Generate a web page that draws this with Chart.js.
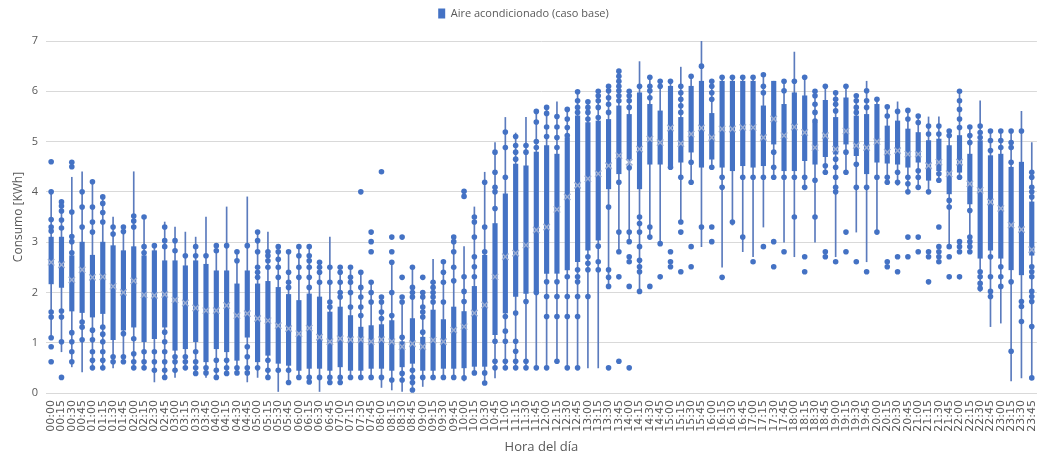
<!DOCTYPE html>
<html>
<head>
<meta charset="utf-8">
<script src="https://cdn.jsdelivr.net/npm/chart.js@4.4.1/dist/chart.umd.min.js"></script>
<style>
  html, body { margin: 0; padding: 0; background: #ffffff; }
  #wrap { width: 1052px; height: 457px; }
</style>
</head>
<body>
<div id="wrap"><canvas id="grafico" width="1052" height="457"></canvas></div>
<script>
// Horas del día, cada 15 minutos
const horas = [
  '00:00','00:15','00:30','00:45','01:00','01:15','01:30','01:45',
  '02:00','02:15','02:30','02:45','03:00','03:15','03:30','03:45',
  '04:00','04:15','04:30','04:45','05:00','05:15','05:30','05:45',
  '06:00','06:15','06:30','06:45','07:00','07:15','07:30','07:45',
  '08:00','08:15','08:30','08:45','09:00','09:15','09:30','09:45',
  '10:00','10:15','10:30','10:45','11:00','11:15','11:30','11:45',
  '12:00','12:15','12:30','12:45','13:00','13:15','13:30','13:45',
  '14:00','14:15','14:30','14:45','15:00','15:15','15:30','15:45',
  '16:00','16:15','16:30','16:45','17:00','17:15','17:30','17:45',
  '18:00','18:15','18:30','18:45','19:00','19:15','19:30','19:45',
  '20:00','20:15','20:30','20:45','21:00','21:15','21:30','21:45',
  '22:00','22:15','22:30','22:45','23:00','23:15','23:30','23:45'
];

// Extremo inferior del bigote [kWh]
const minimo = [
  1.1, 0.82, 0.52, 0.42, 0.5, 0.5, 0.5, 0.6, 0.5, 0.5,
  0.22, 0.31, 0.31, 0.5, 0.39, 0.31, 0.31, 0.39, 0.4, 0.22,
  0.31, 0.31, 0.03, 0.21, 0.31, 0.21, 0.03, 0.21, 0.21, 0.31,
  0.31, 0.31, 0.11, 0.06, 0.03, 0.06, 0.13, 0.31, 0.31, 0.31,
  0.24, 0.4, 0.2, 0.3, 0.5, 0.5, 0.5, 0.5, 0.5, 0.63,
  0.5, 0.5, 0.5, 0.5, 2.12, 2.81, 3.0, 2.02, 3.1, 2.97,
  4.49, 3.4, 4.19, 2.91, 4.49, 2.5, 3.34, 2.81, 2.71, 3.3,
  4.29, 3.0, 2.71, 4.09, 3.0, 4.39, 2.71, 4.39, 3.2, 2.61,
  3.2, 4.19, 4.13, 4.0, 4.09, 4.0, 4.23, 2.91, 4.29, 2.81,
  2.02, 1.32, 1.39, 0.24, 0.3, 0.3
];

// Primer cuartil [kWh]
const cuartil1 = [
  2.17, 2.1, 1.63, 1.6, 1.51, 1.58, 1.06, 1.25, 1.31, 1.02,
  1.08, 1.31, 0.85, 0.88, 1.02, 0.62, 0.88, 0.82, 0.65, 1.11,
  0.62, 0.75, 0.59, 0.55, 0.45, 0.49, 0.49, 0.45, 0.52, 0.45,
  0.45, 0.49, 0.49, 0.45, 0.52, 0.59, 0.45, 0.45, 0.49, 0.49,
  0.5, 0.53, 0.53, 1.16, 1.59, 1.92, 1.98, 2.02, 2.38, 2.38,
  2.45, 2.61, 2.84, 3.04, 4.06, 4.36, 4.65, 4.06, 4.55, 4.55,
  4.52, 4.59, 4.79, 4.49, 4.65, 4.49, 4.42, 4.52, 4.49, 4.52,
  4.95, 4.42, 4.42, 4.62, 4.55, 4.7, 4.75, 4.95, 4.72, 4.36,
  4.59, 4.57, 4.55, 4.49, 4.59, 4.23, 4.42, 3.96, 4.39, 3.76,
  2.68, 2.84, 2.68, 2.45, 2.35, 2.74
];

// Tercer cuartil [kWh]
const cuartil3 = [
  3.1, 3.1, 2.73, 3.0, 2.74, 3.0, 2.93, 2.83, 2.91, 2.73,
  2.83, 2.63, 2.63, 2.53, 2.63, 2.56, 2.43, 2.43, 2.17, 2.43,
  2.17, 2.22, 2.1, 1.96, 1.84, 1.97, 1.91, 1.61, 1.71, 1.54,
  1.31, 1.34, 1.36, 1.44, 1.02, 1.48, 1.11, 1.65, 1.46, 1.71,
  1.62, 2.12, 2.74, 3.37, 3.96, 4.55, 4.52, 4.79, 4.92, 4.75,
  5.08, 5.51, 5.38, 5.41, 5.44, 5.71, 5.54, 5.97, 5.74, 5.61,
  6.1, 5.48, 6.1, 6.2, 5.56, 6.2, 6.2, 6.2, 6.2, 5.71,
  6.2, 5.74, 5.97, 5.91, 5.38, 5.82, 5.48, 5.87, 5.51, 5.54,
  5.74, 5.31, 5.41, 5.25, 5.18, 5.02, 5.05, 4.92, 5.12, 4.75,
  5.02, 4.72, 4.75, 4.49, 4.59, 3.8
];

// Extremo superior del bigote [kWh]
const maximo = [
  4.0, 3.8, 4.29, 4.4, 4.2, 3.9, 3.5, 3.3, 4.4, 3.5,
  2.93, 3.4, 3.3, 3.2, 3.1, 3.5, 2.93, 3.7, 2.81, 3.9,
  3.2, 3.2, 2.91, 2.81, 2.91, 2.91, 2.6, 3.1, 2.5, 2.5,
  2.4, 2.2, 1.91, 2.6, 1.81, 2.5, 2.0, 2.66, 2.61, 3.1,
  2.91, 3.7, 4.39, 4.98, 5.48, 5.17, 5.48, 5.6, 5.68, 5.79,
  5.64, 5.99, 5.79, 6.0, 6.1, 6.4, 6.0, 6.59, 6.28, 6.2,
  6.2, 6.48, 6.3, 7.0, 6.2, 6.28, 6.28, 6.28, 6.28, 6.33,
  6.2, 6.2, 6.78, 6.28, 6.0, 6.1, 5.97, 6.1, 5.91, 6.2,
  5.84, 5.69, 5.79, 5.62, 5.51, 5.49, 5.49, 5.21, 6.0, 5.29,
  5.81, 5.21, 5.21, 5.21, 5.6, 4.98
];

// Media de cada intervalo [kWh]
const media = [
  2.6, 2.55, 2.25, 2.45, 2.3, 2.31, 2.12, 2.0, 2.23, 1.95,
  1.94, 1.96, 1.85, 1.79, 1.69, 1.64, 1.64, 1.74, 1.54, 1.58,
  1.48, 1.44, 1.34, 1.28, 1.18, 1.29, 1.11, 1.02, 1.08, 1.06,
  1.06, 1.02, 1.06, 1.02, 0.92, 0.98, 0.92, 1.05, 1.02, 1.25,
  1.32, 1.59, 1.75, 2.31, 2.71, 2.78, 2.94, 3.24, 3.3, 3.65,
  3.9, 4.13, 4.26, 4.36, 4.52, 4.72, 4.59, 4.85, 5.05, 4.98,
  5.27, 4.96, 5.15, 5.27, 5.08, 5.25, 5.25, 5.28, 5.28, 5.08,
  5.45, 5.12, 5.29, 5.18, 4.88, 5.12, 4.85, 5.21, 4.92, 4.88,
  5.0, 4.79, 4.82, 4.75, 4.75, 4.52, 4.59, 4.36, 4.59, 4.16,
  4.03, 3.8, 3.67, 3.34, 3.25, 2.85
];

// Observaciones individuales fuera de la caja (incluye valores atípicos) [kWh]
const puntos = [
  [4.6, 4.0, 3.45, 3.3, 3.22, 1.61, 1.51, 1.1, 0.92, 0.62],
  [3.8, 3.72, 3.62, 3.44, 3.28, 1.63, 1.51, 1.02, 0.31],
  [4.59, 4.5, 3.6, 3.11, 3.01, 2.79, 1.2, 1.02, 0.82, 0.62],
  [4.0, 3.7, 3.3, 1.41, 1.31, 1.06],
  [4.2, 3.7, 3.4, 3.2, 1.25, 1.06, 0.82, 0.65, 0.5],
  [3.9, 3.77, 3.59, 3.4, 1.31, 1.17, 1.02, 0.82, 0.65, 0.5],
  [3.3, 3.16, 0.72, 0.62],
  [3.3, 3.21, 1.18, 0.72, 0.62],
  [3.52, 3.42, 3.3, 1.08, 0.78, 0.62, 0.5],
  [3.5, 2.91, 2.79, 0.82, 0.62, 0.5],
  [2.93, 0.82, 0.62, 0.45],
  [3.3, 3.03, 2.91, 1.21, 1.02, 0.82, 0.62, 0.45, 0.31],
  [3.03, 2.83, 0.72, 0.62, 0.45],
  [2.73, 0.72, 0.62, 0.5],
  [2.91, 2.73, 0.82, 0.62, 0.5, 0.39],
  [2.73, 0.5, 0.4],
  [2.93, 2.83, 0.65, 0.45, 0.31],
  [2.93, 0.65, 0.5, 0.39],
  [2.81, 2.63, 0.5, 0.4],
  [2.93, 0.92, 0.72, 0.5, 0.4],
  [3.2, 3.03, 2.81, 2.5, 2.4, 2.3, 0.5],
  [2.81, 2.73, 2.63, 2.5, 0.65, 0.45, 0.31],
  [2.91, 2.81, 2.66, 2.5, 2.3, 0.45],
  [2.81, 2.4, 2.2, 2.1, 0.45, 0.21],
  [2.91, 2.73, 2.5, 2.3, 0.31],
  [2.91, 2.73, 2.63, 2.5, 2.3, 2.1, 0.31, 0.22],
  [2.6, 2.5, 2.4, 2.2, 0.31],
  [2.5, 2.2, 1.81, 1.71, 0.31, 0.21],
  [2.5, 2.4, 2.2, 2.0, 1.91, 0.31, 0.21],
  [2.5, 2.3, 2.2, 2.0, 1.71, 0.31],
  [4.0, 2.4, 2.1, 1.91, 1.71, 1.54, 0.31],
  [3.2, 3.01, 2.81, 2.2, 2.0, 1.81, 0.31],
  [4.4, 1.91, 1.81, 1.61, 1.48, 0.31],
  [3.1, 2.81, 2.6, 2.0, 1.54, 0.26],
  [3.1, 2.3, 1.91, 1.81, 1.11, 0.39, 0.26],
  [2.5, 2.1, 2.0, 1.91, 0.45, 0.31, 0.21, 0.06],
  [2.3, 2.0, 1.91, 1.71, 1.61, 1.51, 1.21, 0.31],
  [2.2, 2.1, 2.0, 1.91, 1.81, 0.31],
  [2.61, 2.4, 2.2, 1.81, 0.31],
  [3.1, 3.01, 2.81, 2.5, 2.23, 0.31],
  [4.01, 3.91, 2.31, 2.02, 1.82, 0.3],
  [3.5, 3.4, 3.1, 2.71, 2.51, 2.31, 0.4],
  [4.19, 3.3, 2.81, 0.4, 0.2],
  [4.79, 4.39, 4.09, 4.0, 3.67, 1.03, 0.63, 0.5],
  [5.19, 4.88, 4.29, 1.52, 1.23, 1.03, 0.63, 0.5],
  [5.1, 4.92, 4.79, 4.65, 1.59, 1.03, 0.83, 0.63, 0.5],
  [4.92, 4.79, 1.82, 0.63, 0.5],
  [5.6, 5.39, 5.0, 4.88, 2.0, 0.5],
  [5.68, 5.56, 5.29, 5.1, 2.21, 1.92, 1.52, 0.5],
  [5.5, 5.29, 5.08, 4.88, 2.21, 1.92, 1.52, 0.63],
  [5.64, 5.45, 5.28, 5.12, 2.31, 1.92, 1.52, 0.5],
  [5.99, 5.81, 5.68, 5.58, 2.45, 2.31, 2.21, 1.92, 1.52, 0.5],
  [5.79, 5.68, 5.58, 5.45, 2.71, 2.58, 2.45, 1.92],
  [6.0, 5.91, 5.81, 5.68, 5.48, 2.92, 2.61, 2.45],
  [6.1, 6.01, 5.87, 5.74, 5.58, 3.7, 2.45, 2.3, 2.12, 0.5],
  [6.4, 6.3, 6.2, 6.1, 6.01, 5.91, 5.81, 4.19, 3.2, 2.81, 2.31, 0.63],
  [6.0, 5.91, 5.81, 5.68, 4.48, 3.2, 3.01, 2.71, 2.61, 2.12, 0.5],
  [6.1, 3.5, 3.37, 3.2, 2.91, 2.64, 2.51, 2.41, 2.02],
  [6.28, 6.1, 6.01, 5.87, 3.3, 3.1, 2.12],
  [6.2, 6.1, 2.97, 2.31],
  [6.2, 4.49, 2.81, 2.61, 2.51],
  [6.1, 5.97, 5.84, 5.71, 5.58, 4.29, 3.4, 3.2, 2.41],
  [6.3, 4.59, 4.19, 2.91, 2.51],
  [6.5, 3.3],
  [6.2, 6.1, 5.97, 5.84, 4.49, 3.3, 3.01],
  [6.28, 4.29, 4.09, 2.3],
  [6.28, 3.4],
  [6.28, 4.29, 3.1],
  [6.28, 4.29, 2.61],
  [6.33, 6.1, 5.97, 4.29, 2.91],
  [4.79, 4.49, 4.29, 3.01, 2.51],
  [6.2, 6.01, 4.29, 2.81],
  [6.2, 4.29, 3.5],
  [6.28, 4.29, 4.09, 2.71, 2.41],
  [6.0, 5.91, 5.74, 5.58, 5.41, 4.23, 3.5],
  [6.1, 4.52, 4.39, 2.81, 2.71],
  [5.97, 5.84, 5.74, 5.61, 4.65, 4.49, 4.29, 4.09, 4.0, 2.61],
  [6.1, 4.79, 4.39, 3.2, 2.81],
  [5.91, 5.81, 5.68, 5.58, 4.55, 4.09, 2.61],
  [6.01, 5.81, 5.68, 4.09, 2.41],
  [5.84, 4.29, 3.2],
  [5.69, 5.51, 4.29, 4.19, 2.61, 2.51],
  [5.6, 4.39, 4.19, 2.71, 2.41],
  [5.62, 5.45, 4.29, 4.16, 4.0, 3.1, 2.71],
  [5.51, 5.38, 4.42, 4.29, 4.09, 3.1, 2.81],
  [5.31, 5.15, 4.0, 2.81, 2.71, 2.21],
  [5.31, 5.15, 4.36, 4.23, 3.3, 2.91, 2.81, 2.71, 2.61],
  [5.21, 5.12, 3.83, 3.7, 2.91, 2.71, 2.31],
  [6.0, 5.81, 5.64, 5.45, 5.28, 4.29, 3.01, 2.91, 2.81, 2.31],
  [5.29, 5.12, 4.98, 3.63, 3.1, 3.01, 2.91, 2.81],
  [5.31, 5.18, 5.08, 2.41, 2.31, 2.18, 2.08],
  [5.21, 5.02, 4.82, 2.71, 2.31, 2.02, 1.92],
  [5.21, 5.02, 4.88, 2.51, 2.31, 2.12],
  [5.21, 4.98, 4.88, 4.59, 2.21, 0.83],
  [5.21, 1.82, 1.72, 1.42],
  [4.39, 4.29, 4.09, 4.0, 3.9, 2.51, 2.41, 2.31, 2.02, 1.92, 1.82, 1.32, 0.3]
];

// Marcas del eje Y
const marcasY = [0, 1, 2, 3, 4, 5, 6, 7];

const AZUL = '#4472C4';
const GRIS_TEXTO = '#595959';
const GRIS_REJILLA = '#d9d9d9';

const bigotes = horas.map((h, i) => [minimo[i], maximo[i]]);
const cajas = horas.map((h, i) => [cuartil1[i], cuartil3[i]]);
const nube = [];
puntos.forEach((lista, i) => lista.forEach(v => nube.push({ x: horas[i], y: v })));

// Deja un hueco bajo la leyenda antes del área de trazado
const espacioLeyenda = {
  id: 'espacioLeyenda',
  beforeLayout(chart) {
    const lg = chart.legend;
    if (lg && !lg._conHueco) {
      const ajustar = lg.fit.bind(lg);
      lg.fit = function () { ajustar(); this.height += 12; };
      lg._conHueco = true;
    }
  }
};

new Chart(document.getElementById('grafico'), {
  type: 'bar',
  data: {
    labels: horas,
    datasets: [
      {
        type: 'bar', label: 'bigote', data: bigotes,
        backgroundColor: '#5b7bbd', barThickness: 1, grouped: false, order: 4
      },
      {
        type: 'bar', label: 'Aire acondicionado (caso base)', data: cajas,
        backgroundColor: AZUL, barThickness: 4.5, grouped: false, order: 3
      },
      {
        type: 'line', label: 'observaciones', data: nube, showLine: false,
        pointRadius: 2.8, pointBackgroundColor: AZUL, pointBorderWidth: 0,
        pointHoverRadius: 0, order: 2
      },
      {
        type: 'line', label: 'media', data: media, showLine: false,
        pointStyle: 'crossRot', pointRadius: 4.5, pointBorderColor: '#9aadd4',
        pointBorderWidth: 1.5, pointBackgroundColor: 'transparent', order: 1
      }
    ]
  },
  plugins: [espacioLeyenda],
  options: {
    responsive: false,
    animation: false,
    devicePixelRatio: 1,
    layout: { padding: { top: 0, right: 5, bottom: 0, left: 0 } },
    plugins: {
      legend: {
        display: true,
        position: 'top',
        labels: {
          filter: (item) => item.text === 'Aire acondicionado (caso base)',
          boxWidth: 7, boxHeight: 10, padding: 8,
          color: GRIS_TEXTO,
          font: { family: 'Open Sans', size: 11 }
        }
      },
      tooltip: { enabled: false }
    },
    scales: {
      x: {
        grid: { display: false, drawTicks: false },
        border: { display: true, color: GRIS_REJILLA },
        ticks: {
          autoSkip: false, maxRotation: 90, minRotation: 90, padding: 7,
          color: GRIS_TEXTO, font: { family: 'DejaVu Sans', size: 11 }
        },
        title: {
          display: true, text: 'Hora del día', color: GRIS_TEXTO,
          font: { family: 'Open Sans', size: 13 }, padding: { top: 0, bottom: 2 }
        },
        afterFit: (s) => { s.height = 64; }
      },
      y: {
        min: 0, max: 7,
        afterBuildTicks: (s) => { s.ticks = marcasY.map(v => ({ value: v })); },
        grid: { color: GRIS_REJILLA, drawTicks: false },
        border: { display: false },
        ticks: {
          padding: 8, color: GRIS_TEXTO,
          font: { family: 'Open Sans', size: 11 }
        },
        title: {
          display: true, text: 'Consumo [KWh]', color: GRIS_TEXTO,
          font: { family: 'Open Sans', size: 12 }, padding: { top: 11, bottom: 0 }
        },
        afterFit: (s) => { s.width = 46; }
      }
    }
  }
});
</script>
</body>
</html>
